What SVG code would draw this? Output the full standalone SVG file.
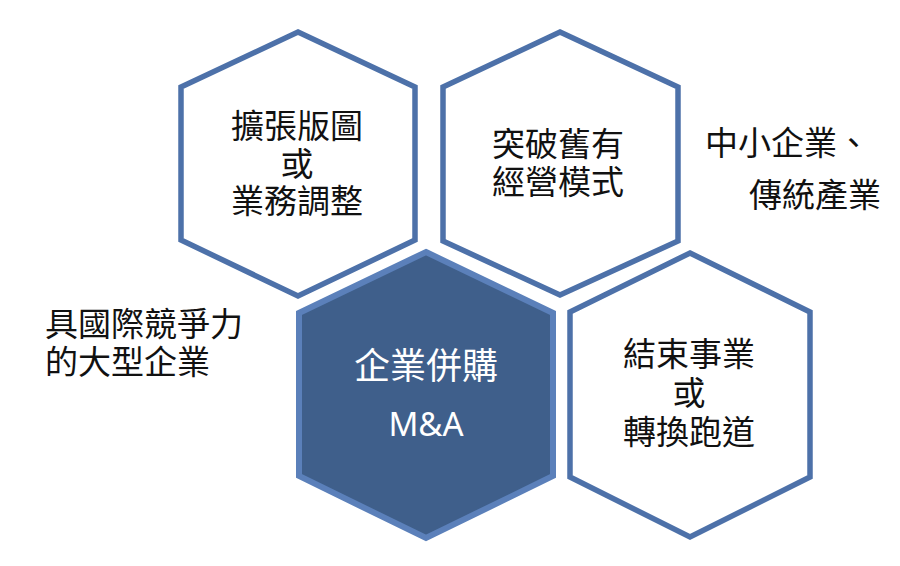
<svg xmlns="http://www.w3.org/2000/svg" width="900" height="566" viewBox="0 0 900 566">
<style>
.hex{fill:#ffffff;stroke:#4d71a9;stroke-width:5.5;stroke-linejoin:miter}
.hexc{fill:#3f5f8b;stroke:#5b80ba;stroke-width:6;stroke-linejoin:miter}
.t{font-family:"Noto Sans CJK TC","Noto Sans CJK SC",sans-serif;font-size:33px;fill:#111111}
.tw{font-family:"Noto Sans CJK TC","Noto Sans CJK SC",sans-serif;font-size:36px;fill:#ffffff}
.m{font-family:"Noto Sans","Open Sans",sans-serif;font-size:33px;fill:#ffffff}
</style>
<rect width="900" height="566" fill="#ffffff"/>
<g id="hex-expand">
<polygon class="hex" points="298,32 415,87 415,240 298,296 181,240 181,87"/>
<text class="t" x="297" y="138" text-anchor="middle">擴張版圖</text>
<text class="t" x="297" y="176" text-anchor="middle">或</text>
<text class="t" x="297" y="213" text-anchor="middle">業務調整</text>
</g>
<g id="hex-break">
<polygon class="hex" points="560,32 678,87 678,241 560,295 443,241 443,87"/>
<text class="t" x="558" y="156" text-anchor="middle">突破舊有</text>
<text class="t" x="558" y="194" text-anchor="middle">經營模式</text>
</g>
<g id="hex-ma">
<polygon class="hexc" points="426,252 553,313 553,476 426,538 299,476 299,313"/>
<text class="tw" x="426" y="379" text-anchor="middle">企業併購</text>
<text class="m" x="426" y="436" text-anchor="middle">M&amp;A</text>
</g>
<g id="hex-end">
<polygon class="hex" points="690,253 810,312 810,477 690,537 570,477 570,312"/>
<text class="t" x="689" y="366" text-anchor="middle">結束事業</text>
<text class="t" x="689" y="405" text-anchor="middle">或</text>
<text class="t" x="689" y="444" text-anchor="middle">轉換跑道</text>
</g>
<g id="label-sme">
<text class="t" x="705" y="155">中小企業、</text>
<text class="t" x="749" y="207">傳統產業</text>
</g>
<g id="label-large">
<text class="t" x="45" y="336">具國際競爭力</text>
<text class="t" x="45" y="374">的大型企業</text>
</g>
<g id="connectors"></g>
</svg>
